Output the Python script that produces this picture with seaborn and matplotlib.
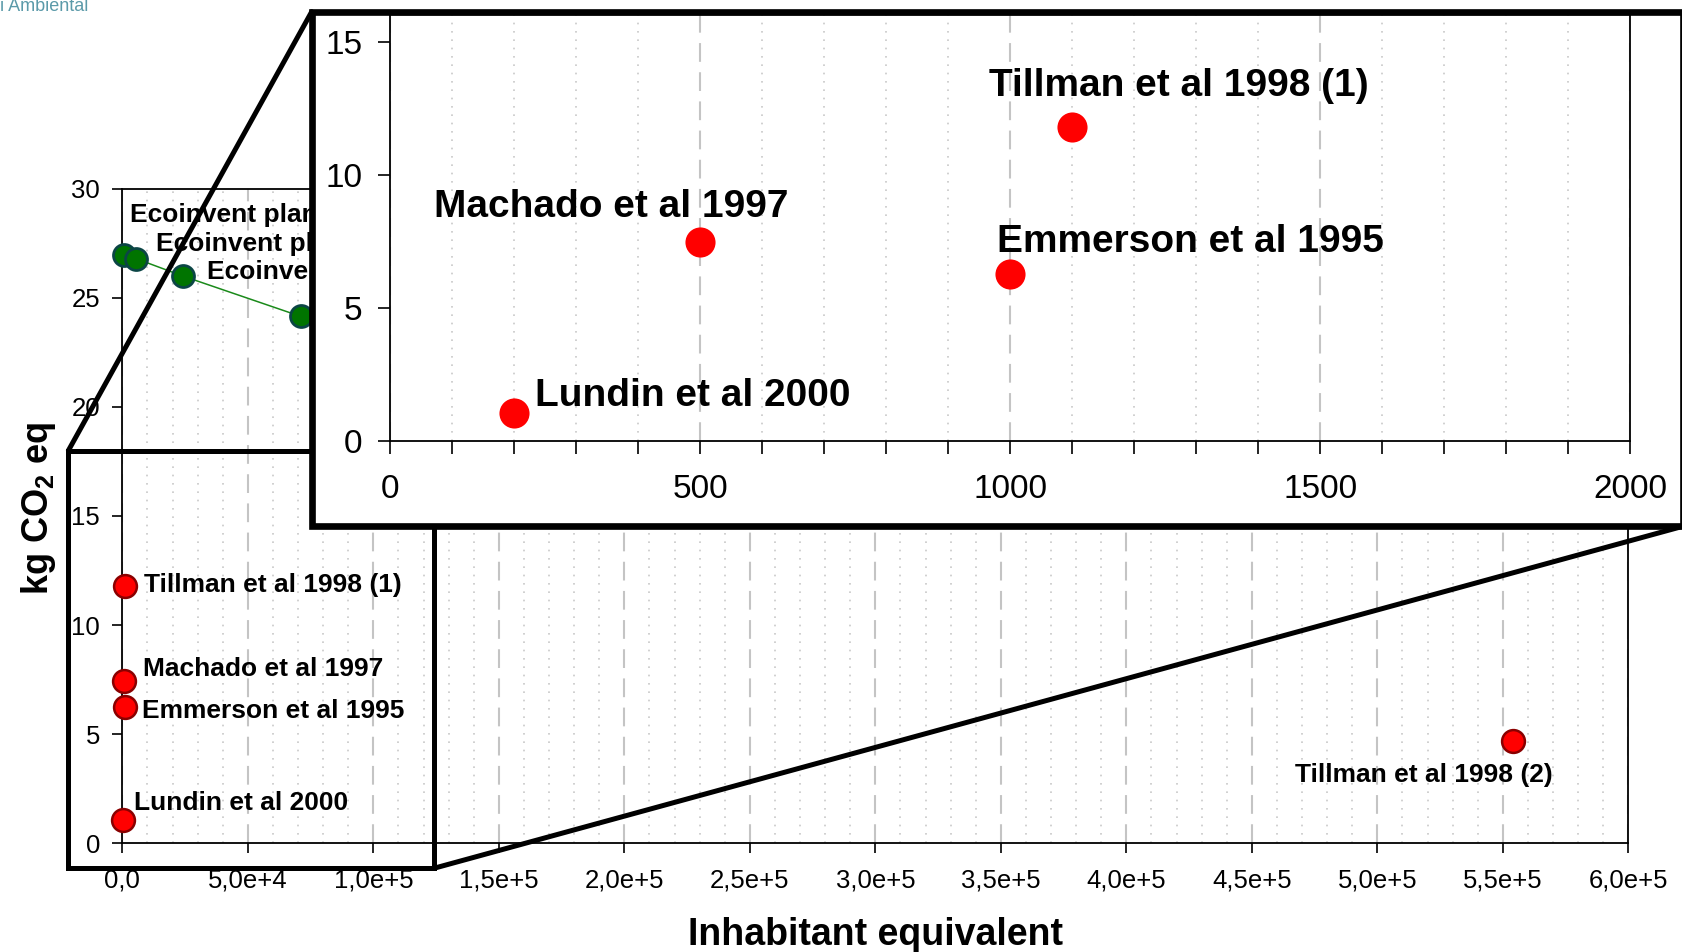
import matplotlib
matplotlib.use("Agg")  # no display
import matplotlib.pyplot as plt
import seaborn as sns
from matplotlib.patches import Rectangle, ConnectionPatch
from matplotlib.ticker import MultipleLocator

# --- data ------------------------------------------------------------------
studies = ["Lundin et al 2000", "Machado et al 1997", "Emmerson et al 1995",
           "Tillman et al 1998 (1)", "Tillman et al 1998 (2)"]
study_ie = [200, 500, 1000, 1100, 554000]
study_co2 = [1.05, 7.46, 6.26, 11.8, 4.7]

eco_labels = ["Ecoinvent plant class 5", "Ecoinvent plant class 4",
              "Ecoinvent plant class 3", "Ecoinvent plant class 2"]
eco_ie = [800, 5300, 24000, 71000]
eco_co2 = [26.95, 26.8, 26.0, 24.15]

main_xticks = [0, 50000, 100000, 150000, 200000, 250000, 300000,
               350000, 400000, 450000, 500000, 550000, 600000]
main_xticklabels = ["0,0", "5,0e+4", "1,0e+5", "1,5e+5", "2,0e+5", "2,5e+5",
                    "3,0e+5", "3,5e+5", "4,0e+5", "4,5e+5", "5,0e+5",
                    "5,5e+5", "6,0e+5"]
main_yticks = [0, 5, 10, 15, 20, 25, 30]
inset_xticks = [0, 500, 1000, 1500, 2000]
inset_yticks = [0, 5, 10, 15]

# label offsets (points) relative to each marker
main_label_offsets = [(8, 7.7), (14, 2.9), (12.5, -8.4), (13.4, -4.8), (-64, -29.5)]
eco_label_offsets = [(4.3, 24), (14.4, 5.3), (17.3, -2.4), (400, 0)]
inset_label_offsets = [(15, 4.8), (-192, 18.4), (-9.7, 15.8), (-59.7, 22)]

# zoomed region marked on the main plot
box_x = (-21500, 124000)
box_y = (-1.15, 18.0)

sns.set_theme(style="white")
plt.rcParams["font.family"] = ["Liberation Sans", "DejaVu Sans"]
plt.rcParams["mathtext.fontset"] = "custom"
plt.rcParams["mathtext.bf"] = "Liberation Sans:bold"
plt.rcParams["mathtext.rm"] = "Liberation Sans:bold"
for key in ["text.color", "axes.labelcolor", "xtick.color", "ytick.color"]:
    plt.rcParams[key] = "black"

GRID_MAJOR = dict(color="#c4c4c4", linestyle=(0, (9, 5)), linewidth=1.5)
GRID_MINOR = dict(color="#c8c8c8", linestyle=(0, (1, 4)), linewidth=1.2)

fig = plt.figure(figsize=(16.83, 9.52), dpi=100)

# --- main axes -------------------------------------------------------------
ax = fig.add_axes([0.0727, 0.1142, 0.8948, 0.6876])
ax.set_axisbelow(True)
sns.lineplot(x=eco_ie, y=eco_co2, sort=False, color="#1a8a1a", linewidth=1.1,
             ax=ax)
sns.scatterplot(x=eco_ie, y=eco_co2, s=250, color="#007400",
                edgecolor="#0b4545", linewidth=2, ax=ax, zorder=3, clip_on=False)
sns.scatterplot(x=study_ie, y=study_co2, s=270, color="#ff0000",
                edgecolor="#8a0000", linewidth=1.8, ax=ax, zorder=3, clip_on=False)

for i, name in enumerate(studies):
    dx, dy = main_label_offsets[i]
    ha = "center" if i == 4 else "left"
    ax.annotate(name, (study_ie[i], study_co2[i]), xytext=(dx, dy),
                textcoords="offset points", ha=ha, va="baseline",
                fontsize=19, fontweight="bold", zorder=4)
for i, name in enumerate(eco_labels):
    dx, dy = eco_label_offsets[i]
    ax.annotate(name, (eco_ie[i], eco_co2[i]), xytext=(dx, dy),
                textcoords="offset points", ha="left", va="baseline",
                fontsize=19, fontweight="bold", zorder=4)

ax.set_xlim(0, 600000)
ax.set_ylim(0, 30)
ax.set_xticks(main_xticks)
ax.set_xticklabels(main_xticklabels)
ax.set_yticks(main_yticks)
ax.xaxis.set_minor_locator(MultipleLocator(10000))
ax.xaxis.grid(True, which="major", **GRID_MAJOR)
ax.xaxis.grid(True, which="minor", **GRID_MINOR)
ax.yaxis.grid(False)
ax.tick_params(axis="x", which="major", direction="out", length=7, width=1.2,
               pad=11, labelsize=18.5, bottom=True)
ax.tick_params(axis="x", which="minor", length=0)
ax.tick_params(axis="y", direction="out", length=7, width=1.2, pad=9,
               labelsize=18.5, left=True)
for sp in ax.spines.values():
    sp.set_color("black")
    sp.set_linewidth(1.3)

ax.set_xlabel("Inhabitant equivalent", fontsize=27, fontweight="bold",
              va="baseline")
ax.xaxis.set_label_coords(0.5, -0.155)
ax.set_ylabel(r"kg CO$_\mathbf{2}$ eq", fontsize=26, fontweight="bold")
ax.yaxis.set_label_coords(-0.043, 0.512)

ax.add_patch(Rectangle((box_x[0], box_y[0]), box_x[1] - box_x[0],
                       box_y[1] - box_y[0], fill=False, edgecolor="black",
                       linewidth=3.6, clip_on=False, zorder=5))

# --- frame and connector lines ---------------------------------------------
frame_l, frame_b, frame_t = 0.1852, 0.4472, 0.9877
fig.add_artist(Rectangle((frame_l, frame_b), 1.0 - frame_l, frame_t - frame_b,
                         transform=fig.transFigure, facecolor="white",
                         edgecolor="black", linewidth=4.8, zorder=2))
for xa, ya, xb, yb in [(box_x[0], box_y[1], frame_l, frame_t),
                       (box_x[1], box_y[0], 1.0, frame_b)]:
    fig.add_artist(ConnectionPatch(xyA=(xa, ya), coordsA=ax.transData,
                                   xyB=(xb, yb), coordsB=fig.transFigure,
                                   color="black", linewidth=3.6, zorder=1))

# --- inset axes ------------------------------------------------------------
axi = fig.add_axes([0.2320, 0.5371, 0.7365, 0.4471], zorder=3)
axi.set_axisbelow(True)
sns.scatterplot(x=study_ie, y=study_co2, s=470, color="#ff0000", linewidth=0,
                ax=axi, zorder=3)
for i, name in enumerate(studies[:4]):
    dx, dy = inset_label_offsets[i]
    axi.annotate(name, (study_ie[i], study_co2[i]), xytext=(dx, dy),
                 textcoords="offset points", ha="left", va="baseline",
                 fontsize=28, fontweight="bold")
axi.set_xlim(0, 2000)
axi.set_ylim(0, 16)
axi.set_xticks(inset_xticks)
axi.set_yticks(inset_yticks)
axi.xaxis.set_minor_locator(MultipleLocator(100))
axi.xaxis.grid(True, which="major", **GRID_MAJOR)
axi.xaxis.grid(True, which="minor", **GRID_MINOR)
axi.yaxis.grid(False)
axi.tick_params(axis="x", which="both", direction="out", length=9, width=1.2,
                pad=15, labelsize=24, bottom=True)
axi.tick_params(axis="y", direction="out", length=9, width=1.2, pad=11,
                labelsize=24, left=True)
for sp in axi.spines.values():
    sp.set_color("black")
    sp.set_linewidth(1.3)

# slide logo remnant
fig.text(0.0, 1 - 11 / 952, "i Ambiental", color="#5b9aa9", fontsize=13,
         va="baseline", ha="left")

fig.savefig("out.png", dpi=100)
